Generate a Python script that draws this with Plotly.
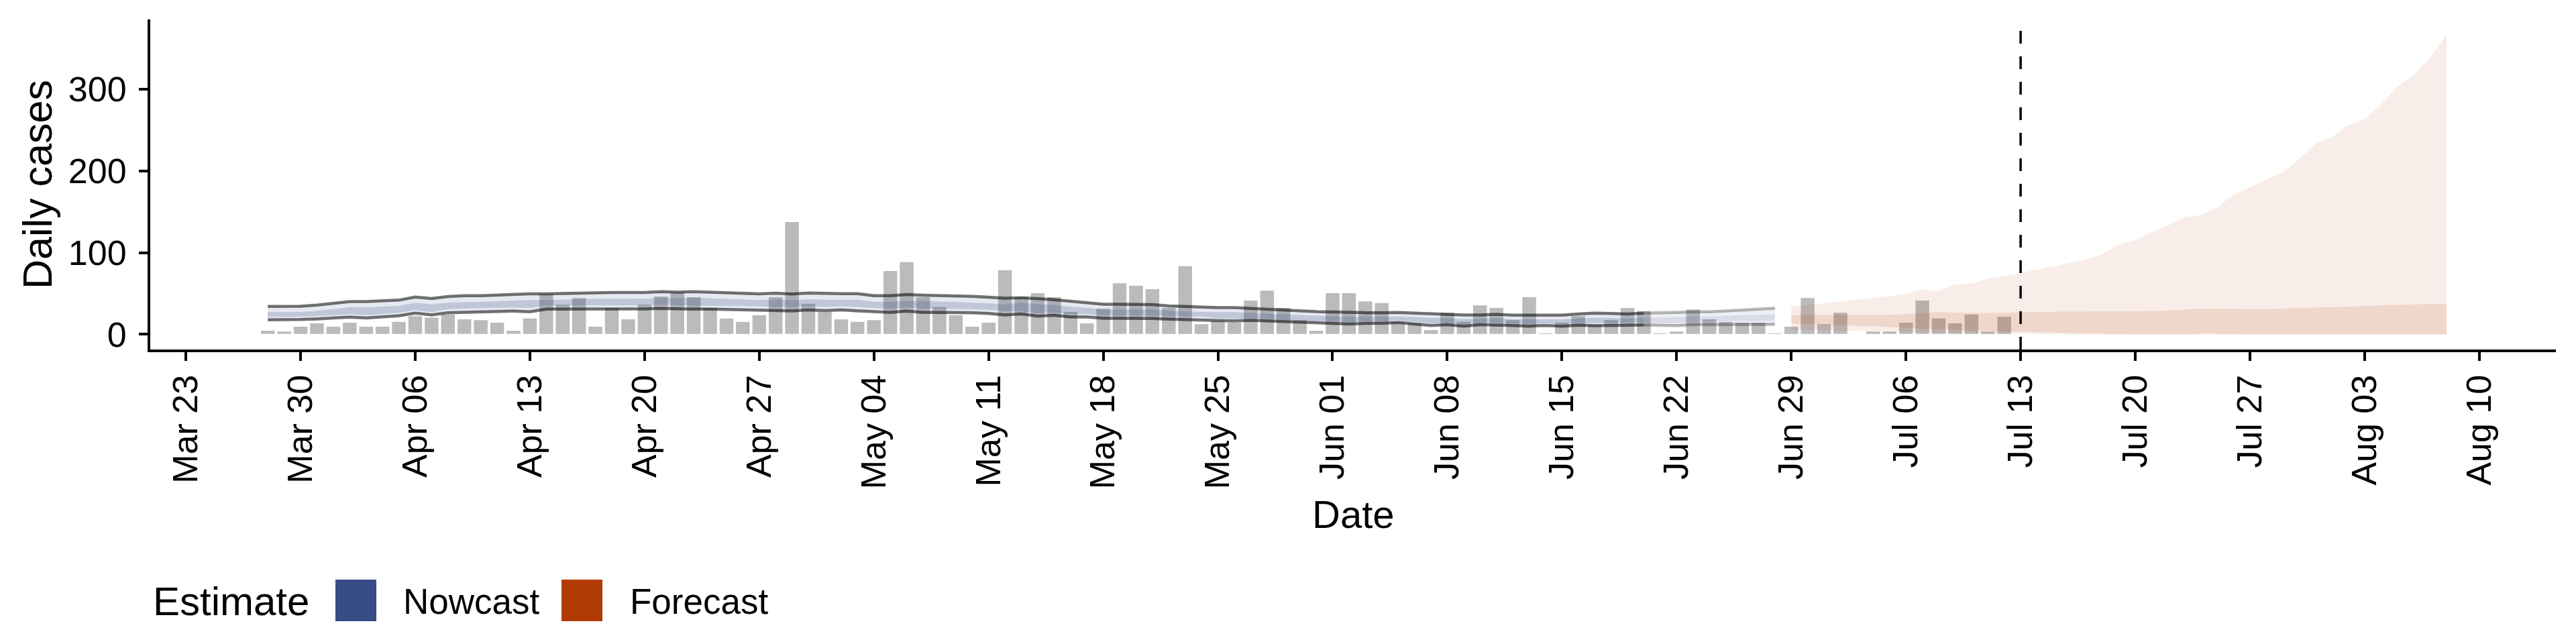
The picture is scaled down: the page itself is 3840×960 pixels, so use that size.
import pandas as pd
import plotly.graph_objects as go

# %%
# Daily reported cases, one bar per day from Mar 28
case_start = '2020-03-28'
cases = [5, 4, 10, 14, 10, 15, 10, 10, 16, 23, 21, 25, 19, 18, 15, 5, 20, 50, 37, 45,
         10, 33, 19, 37, 47, 52, 46,
         33, 20, 16, 24, 46, 138, 38, 28, 19, 16, 18, 78, 89, 46, 34, 24, 10, 15, 79,
         46, 51, 46, 28, 14, 32, 63, 60,
         56, 33, 84, 13, 17, 15, 42, 54, 33, 18, 5, 51, 51, 41, 39, 16, 14, 6, 27, 16,
         36, 33, 18, 46, 2, 15,
         23, 12, 18, 33, 29, 2, 4, 31, 19, 16, 15, 15, 2, 10, 45, 13, 27, 0, 4, 4, 15,
         42, 20, 14, 25, 4, 22]

# Nowcast, Mar 28 - Jun 28
nowcast_start = '2020-03-28'
nowcast_upper90 = [34.2, 34.5, 34.5, 35.8, 37.8, 40.2, 40.2, 41.3, 41.9, 45.7, 43.8, 46.3, 47.3,
                   47.3, 48.2, 49.0, 49.5, 49.5, 50.1, 50.9, 51.2, 51.2, 51.2, 51.2, 52.3, 51.7, 52.3,
                   51.5, 51.2, 50.3, 49.5, 50.3, 49.3, 50.6, 49.8, 49.8, 49.8, 47.3, 47.3, 48.7,
                   47.9, 47.6, 47.3, 46.5, 45.4, 44.3, 44.9, 43.8, 42.4, 40.5, 39.1, 36.9, 36.9, 36.9,
                   36.4, 34.8, 34.0, 33.4, 32.8, 32.8, 31.7, 30.6, 29.8, 28.7, 27.9, 27.4, 26.5,
                   26.5, 26.5, 26.8, 26.0, 25.2, 24.9, 23.8, 23.8, 24.6, 23.5, 23.5, 23.5, 23.5,
                   24.9, 26.0, 25.5, 24.9, 26.0, 26.0, 26.8, 27.6, 27.6, 28.7, 29.8, 30.9, 32.0]
nowcast_lower90 = [17.8, 17.8, 18.1, 18.9, 19.7, 21.1, 20.0, 21.6, 22.7, 26.0, 23.8, 26.5, 27.1,
                   27.6, 27.9, 28.5, 27.6, 30.9, 30.9, 30.9, 30.4, 30.4, 30.9, 31.2, 31.7, 30.9, 30.9,
                   30.9, 30.4, 30.1, 29.8, 29.3, 28.7, 29.8, 29.0, 29.8, 29.0, 28.2, 26.8, 28.5,
                   26.8, 26.8, 26.8, 26.3, 25.5, 23.8, 24.9, 22.4, 23.3, 21.3, 21.3, 19.7, 19.7, 19.7,
                   19.4, 18.6, 18.1, 18.1, 17.2, 16.4, 17.2, 16.4, 15.6, 14.5, 13.4, 13.4, 12.6,
                   13.4, 13.4, 14.5, 12.6, 10.9, 11.8, 10.1, 11.8, 11.8, 10.9, 10.1, 10.9, 10.1,
                   11.2, 10.7, 11.2, 11.8, 11.5, 10.7, 10.7, 11.8, 11.8, 12.3, 12.6, 12.3, 12.3]
nowcast_upper50 = [27.2, 27.5, 27.5, 28.8, 30.8, 33.2, 33.2, 34.3, 34.9, 38.7, 36.8, 38.8, 39.8,
                   39.8, 40.7, 41.5, 42.0, 42.0, 42.6, 43.4, 43.7, 43.7, 43.7, 43.7, 44.8, 44.2, 44.8,
                   44.0, 43.7, 42.8, 42.0, 42.8, 41.8, 43.1, 42.3, 42.3, 42.3, 39.8, 39.8, 41.2,
                   40.4, 40.1, 39.8, 39.0, 37.9, 36.8, 38.4, 37.3, 35.9, 34.0, 32.6, 30.4, 30.4, 30.4,
                   30.4, 28.8, 28.0, 27.4, 27.3, 27.3, 26.2, 25.3, 24.6, 23.5, 22.9, 22.4, 21.5,
                   21.5, 21.5, 21.8, 21.0, 20.2, 19.9, 18.8, 18.8, 19.6, 18.5, 18.5, 18.5, 18.5,
                   19.4, 20.5, 20.0, 19.4, 20.5, 20.5, 21.3, 22.1, 22.1, 22.7, 23.3, 23.9, 24.5]
nowcast_lower50 = [21.3, 21.3, 21.6, 22.4, 23.2, 24.6, 23.5, 25.1, 26.2, 29.5, 27.3, 31.0, 31.6,
                   32.1, 32.4, 33.0, 32.1, 35.4, 35.4, 35.4, 34.9, 34.9, 35.4, 35.7, 36.2, 35.4, 35.4,
                   35.4, 34.9, 34.6, 34.3, 33.8, 33.2, 34.3, 33.5, 34.3, 33.5, 32.7, 31.3, 33.0,
                   31.3, 31.3, 31.3, 30.8, 30.0, 28.3, 28.4, 25.9, 26.8, 24.8, 24.8, 23.2, 23.2, 23.2,
                   22.9, 22.1, 21.6, 21.6, 19.7, 18.9, 19.7, 18.9, 18.1, 17.0, 15.9, 15.9, 15.1,
                   15.9, 15.9, 17.0, 15.1, 13.4, 14.3, 12.6, 14.3, 14.3, 13.4, 12.6, 13.4, 12.6,
                   14.2, 13.7, 14.2, 14.8, 14.5, 13.7, 13.7, 14.8, 15.8, 16.3, 16.6, 16.3, 16.3]
# last days of the nowcast are drawn fainter (partial data)
partial_from = '2020-06-20'

# Forecast, Jun 29 - Aug 8
forecast_start = '2020-06-29'
forecast_upper90 = [34, 36, 38, 40, 42, 44, 46.5, 50, 55, 53, 61, 62, 68, 71, 75, 79, 83, 87, 92,
                    98, 110, 115, 125, 133, 143, 146, 155, 171, 180, 189, 198, 214, 233, 241, 256,
                    263, 281, 303, 317, 338, 366]
forecast_lower90 = [6, 5.5, 5, 4.5, 4, 3.5, 3, 3, 2.5, 2, 2, 1.5, 1.5, 1, 1, 0.5, 0,
                    0, 0, 0, 0, 0, 0, 0, 0, 0, 0, 0, 0, 0, 0, 0, 0, 0, 0, 0, 0, 0, 0, 0, 0]
forecast_upper50 = [23.5, 23.5, 23.5, 23.5, 24, 24, 24, 24.5, 26, 27, 26.5, 26, 26, 26.5, 27,
                    27.5, 28, 28, 28, 28, 28, 28, 28.5, 29, 30, 31.5, 31.5, 31, 31, 31, 31.5, 32,
                    33, 33.5, 34, 34.5, 35.5, 36, 36.5, 37, 37.5]
forecast_lower50 = [13, 12.5, 12, 11.5, 11, 10, 9, 8, 7, 6, 5, 4.5, 4, 3.5, 3, 2.5, 2, 2, 1.5,
                    1, 0.5, 0, 0, 0, 0, 1, 0.5, 0, 0, 0, 0, 0, 0, 0, 0, 0, 0, 0, 0, 0, 0]

forecast_date = '2020-07-13'
tick_dates = pd.date_range('2020-03-23', '2020-08-10', freq='7D')
legend_labels = ['Nowcast', 'Forecast']

NOWCAST = (53, 76, 132)
FORECAST = (178, 58, 3)
FONT = 'Liberation Sans, Arial, sans-serif'

def rgba(c, a):
    return 'rgba(%d,%d,%d,%s)' % (c[0], c[1], c[2], a)

# page geometry (px) of the panel
W, H = 3840, 960
L, R, T, B = 224, 3810, 29, 521

def px_x(px):
    return (px - L) / (R - L)

def px_y(py):
    return (B - py) / (B - T)

# %%
case_dates = pd.date_range(case_start, periods=len(cases), freq='D')
now_dates = pd.date_range(nowcast_start, periods=len(nowcast_upper90), freq='D')
fc_dates = pd.date_range(forecast_start, periods=len(forecast_upper90), freq='D')

now = pd.DataFrame({'date': now_dates, 'u90': nowcast_upper90, 'l90': nowcast_lower90,
                    'u50': nowcast_upper50, 'l50': nowcast_lower50})
now_main = now[now['date'] <= partial_from]
now_part = now[now['date'] >= partial_from]

fig = go.Figure()

fig.add_trace(go.Bar(
    x=case_dates, y=cases,
    width=0.9 * 86400000,
    marker=dict(color='#bbbbbb', line=dict(color='white', width=1.5)),
    showlegend=False
))

def ribbon(x, lo, hi, color):
    fig.add_trace(go.Scatter(x=x, y=lo, mode='lines', line=dict(width=0),
                             showlegend=False, hoverinfo='skip'))
    fig.add_trace(go.Scatter(x=x, y=hi, mode='lines', line=dict(width=0),
                             fill='tonexty', fillcolor=color, showlegend=False))

# nowcast ribbons and bound lines
for part, a90, a50, aline in [(now_main, 0.12, 0.21, 0.55), (now_part, 0.09, 0.11, 0.28)]:
    ribbon(part['date'], part['l90'], part['u90'], rgba(NOWCAST, a90))
    ribbon(part['date'], part['l50'], part['u50'], rgba(NOWCAST, a50))
    for col in ['u90', 'l90']:
        fig.add_trace(go.Scatter(x=part['date'], y=part[col], mode='lines',
                                 line=dict(color=rgba((0, 0, 0), aline), width=4.5),
                                 showlegend=False))

# forecast ribbons
ribbon(fc_dates, forecast_lower90, forecast_upper90, rgba(FORECAST, 0.09))
ribbon(fc_dates, forecast_lower50, forecast_upper50, rgba(FORECAST, 0.12))

shapes = [dict(type='line', xref='x', yref='paper', x0=forecast_date, x1=forecast_date,
               y0=0, y1=1, line=dict(color='black', width=3.5, dash='19px,19px'))]

# legend drawn by hand (keys are bigger than plotly allows)
key_x = [500, 837]
text_x = [599, 937]
for i, lab in enumerate(legend_labels):
    col = NOWCAST if lab == 'Nowcast' else FORECAST
    shapes.append(dict(type='rect', xref='paper', yref='paper',
                       x0=px_x(key_x[i]), x1=px_x(key_x[i] + 61),
                       y0=px_y(864), y1=px_y(926),
                       fillcolor=rgba(col, 1), line=dict(width=0)))

annotations = [
    dict(text='Daily cases', xref='paper', yref='paper', x=px_x(56), y=0.5,
         xanchor='center', yanchor='middle',
         textangle=-90, showarrow=False, font=dict(size=61, color='black')),
    dict(text='Date', xref='paper', yref='paper', x=0.5, y=px_y(766),
         xanchor='center', yanchor='middle',
         showarrow=False, font=dict(size=58, color='black')),
    dict(text='Estimate', xref='paper', yref='paper', x=px_x(226), y=px_y(896),
         xanchor='left', yanchor='middle', showarrow=False,
         font=dict(size=60, color='black')),
]
for i, lab in enumerate(legend_labels):
    annotations.append(dict(text=lab, xref='paper', yref='paper', x=px_x(text_x[i]),
                            y=px_y(896), xanchor='left', yanchor='middle', showarrow=False,
                            font=dict(size=53, color='black')))

fig.update_layout(
    width=W, height=H,
    margin=dict(l=L, r=W - R, t=T, b=H - B, pad=0),
    plot_bgcolor='white', paper_bgcolor='white',
    font=dict(family=FONT, color='black'),
    barmode='overlay', showlegend=False,
    shapes=shapes, annotations=annotations,
    xaxis=dict(
        type='date',
        range=['2020-03-20 19:48', '2020-08-14 16:12'],
        tickvals=tick_dates,
        ticktext=[d.strftime('%b %d') for d in tick_dates],
        tickangle=-90,
        tickfont=dict(size=52, color='black'),
        ticks='outside', ticklen=13, tickwidth=4, tickcolor='black',
        showline=True, linecolor='black', linewidth=4,
        showgrid=False, zeroline=False
    ),
    yaxis=dict(
        range=[-18.5, 385],
        tickvals=[0, 100, 200, 300],
        tickfont=dict(size=52, color='black'),
        ticks='outside', ticklen=13, tickwidth=4, tickcolor='black',
        ticklabelstandoff=8,
        showline=True, linecolor='black', linewidth=4,
        showgrid=False, zeroline=False
    )
)

# page has a default body margin; drop it so the figure sits at 0,0
fig.write_html('out.html', config={'displayModeBar': False},
               post_script="document.body.style.margin='0';")
